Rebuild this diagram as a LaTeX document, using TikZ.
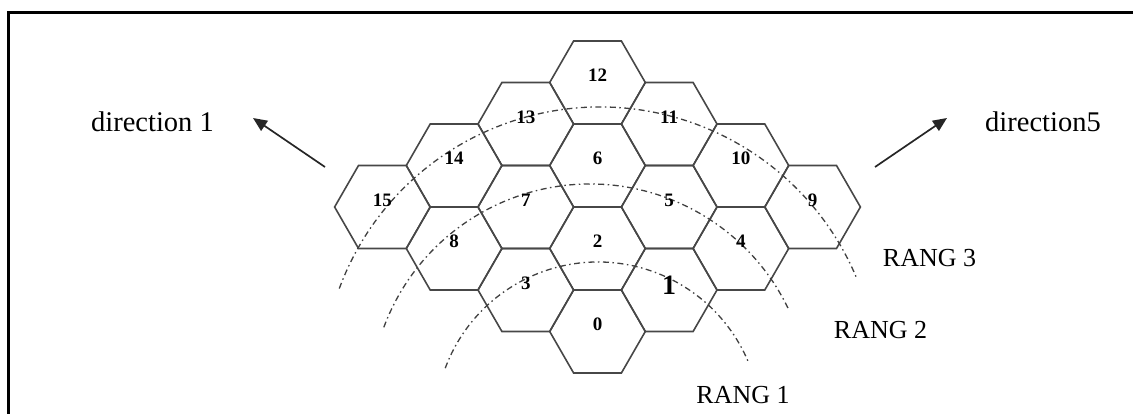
\documentclass[tikz,border=0pt]{standalone}
\usepackage{fontspec}
\setmainfont{Liberation Serif}
\usetikzlibrary{arrows.meta}
\begin{document}
\begin{tikzpicture}[x=1pt,y=-1pt,
  hexline/.style={draw=black!72,line width=1.6pt,line join=miter},
  num/.style={font=\fontsize{19}{19}\selectfont\bfseries,inner sep=0pt},
  bignum/.style={font=\fontsize{28}{28}\selectfont\bfseries,inner sep=0pt},
  ring/.style={draw=black!75,line width=1.3pt,dash pattern=on 6pt off 3.5pt on 1.5pt off 3.5pt},
  ranglbl/.style={font=\fontsize{26}{26}\selectfont,inner sep=0pt,anchor=base},
  dirlbl/.style={font=\fontsize{28.5}{28.5}\selectfont,inner sep=0pt,anchor=base},
  dirarrow/.style={draw=black!85,line width=1.7pt,-{Triangle[length=14pt,width=12pt]}}
]
\useasboundingbox (0,0) rectangle (1133,414);
% frame (only top and left visible)
\draw[line width=3pt] (8,420) -- (8,13) -- (1140,13);
\def\R{47.8}\def\H{41.5}
% hexagons
\foreach \n/\cc/\yy in {0/0/331.5,1/1/290,2/0/248.5,3/-1/290,4/2/248.5,5/1/207,6/0/165.5,7/-1/207,8/-2/248.5,9/3/207,10/2/165.5,11/1/124,12/0/82.5,13/-1/124,14/-2/165.5,15/-3/207}{
  \coordinate (h\n) at ({597.5+71.7*\cc},\yy);
  \draw[hexline] (h\n) ++(-\R,0) -- ++({\R/2},-\H) -- ++(\R,0) -- ++({\R/2},\H) -- ++({-\R/2},\H) -- ++(-\R,0) -- cycle;
}
% ring arcs
\coordinate (c1) at (598,425);
\coordinate (c2) at (590,404);
\coordinate (c3) at (600,385);
\draw[ring] (c1) ++(-159.6:163) arc[start angle=-159.6,end angle=-22.9,radius=163];
\draw[ring] (c2) ++(-159.6:220) arc[start angle=-159.6,end angle=-25.3,radius=220];
\draw[ring] (c3) ++(-159.7:278) arc[start angle=-159.7,end angle=-22.6,radius=278];
% cell numbers
\foreach \n in {0,2,3,4,5,6,7,8,9,10,11,12,13,14,15}{
  \node[num] (l\n) at ([yshift=7pt]h\n) {\n};
}
\node[bignum] (l1) at ([yshift=5pt]h1) {1};
% ring labels
\node[ranglbl] (r3) at (929.5,266) {RANG 3};
\node[ranglbl] (r2) at (880.5,338) {RANG 2};
\node[ranglbl] (r1) at (743,403) {RANG 1};
% directions
\node[dirlbl] (d1) at (152.5,132) {direction 1};
\node[dirlbl] (d5) at (1043,132) {direction5};
\coordinate (d1tail) at (325,167);
\coordinate (d1tip) at (253,118);
\coordinate (d5tail) at (875,167);
\coordinate (d5tip) at (947,118);
\draw[dirarrow] (d1tail) -- (d1tip);
\draw[dirarrow] (d5tail) -- (d5tip);
\end{tikzpicture}
\end{document}
